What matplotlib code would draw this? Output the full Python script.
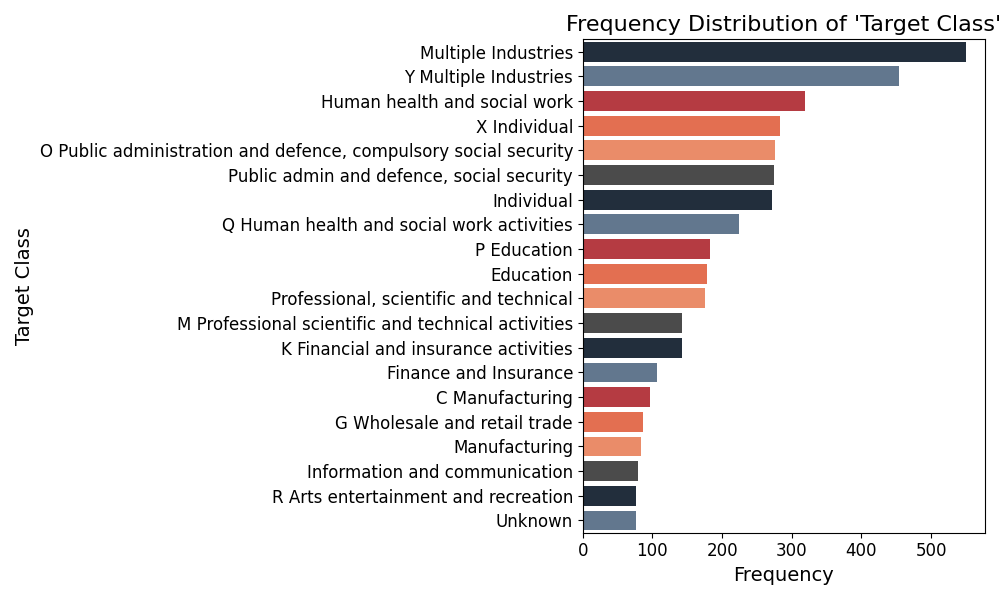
import matplotlib
matplotlib.use("Agg")
import matplotlib.pyplot as plt

categories = [
    "Multiple Industries",
    "Y Multiple Industries",
    "Human health and social work",
    "X Individual",
    "O Public administration and defence, compulsory social security",
    "Public admin and defence, social security",
    "Individual",
    "Q Human health and social work activities",
    "P Education",
    "Education",
    "Professional, scientific and technical",
    "M Professional scientific and technical activities",
    "K Financial and insurance activities",
    "Finance and Insurance",
    "C Manufacturing",
    "G Wholesale and retail trade",
    "Manufacturing",
    "Information and communication",
    "R Arts entertainment and recreation",
    "Unknown",
]
counts = [550, 454, 319, 283, 276, 274, 271, 224, 182, 178,
          175, 143, 143, 107, 97, 87, 83, 79, 77, 76]

palette = ["#222e3c", "#62778e", "#b53b42", "#e36f51", "#ea8c69", "#4b4b4b"]
colors = [palette[i % len(palette)] for i in range(len(categories))]

fig, ax = plt.subplots(figsize=(10, 6), dpi=100)
ypos = list(range(len(categories)))
ax.barh(ypos, counts, height=0.8, color=colors)
ax.set_yticks(ypos)
ax.set_yticklabels(categories)
ax.set_ylim(len(categories) - 0.5, -0.5)
ax.set_xlim(0, max(counts) * 1.05)
ax.tick_params(axis="both", labelsize=12)
ax.set_title("Frequency Distribution of 'Target Class'", fontsize=16)
ax.set_xlabel("Frequency", fontsize=14)
ax.set_ylabel("Target Class", fontsize=14)

fig.tight_layout()
fig.savefig("out.png")
